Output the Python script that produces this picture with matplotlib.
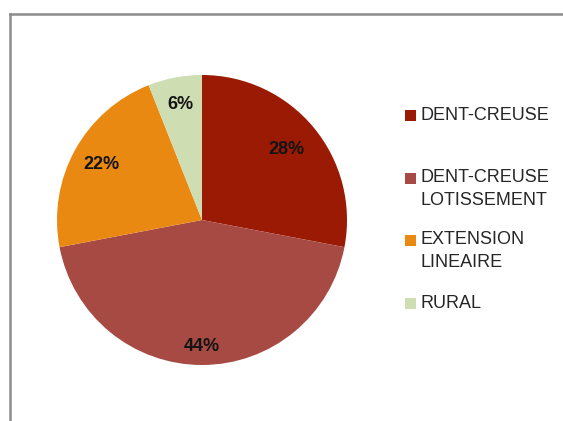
import matplotlib
matplotlib.use("Agg")
import matplotlib.pyplot as plt
from matplotlib.patches import Rectangle
from matplotlib.lines import Line2D
import numpy as np

categories = ["DENT-CREUSE", "DENT-CREUSE\nLOTISSEMENT", "EXTENSION\nLINEAIRE", "RURAL"]
shares = [28, 44, 22, 6]
colors = ["#9A1A04", "#A84A44", "#EA8912", "#CFDDB2"]

W, H = 563, 421
fig = plt.figure(figsize=(W / 100, H / 100), dpi=100)
fig.patch.set_facecolor("white")
plt.rcParams["font.family"] = ["Liberation Sans", "DejaVu Sans"]

# pie placement in pixels (center and radius)
cx, cy, R = 202, 220, 145
ax = fig.add_axes([(cx - R) / W, (H - cy - R) / H, 2 * R / W, 2 * R / H])
wedges, _ = ax.pie(shares, colors=colors, startangle=90, counterclock=False,
                   radius=1.0, wedgeprops=dict(linewidth=0))
ax.set_xlim(-1, 1)
ax.set_ylim(-1, 1)
ax.set_aspect("equal")
ax.axis("off")

# percentage labels placed along each wedge's mid-angle
label_r = [0.76, 0.87, 0.79, 0.81]
for w, v, r in zip(wedges, shares, label_r):
    mid = np.deg2rad((w.theta1 + w.theta2) / 2)
    ax.text(r * np.cos(mid), r * np.sin(mid), f"{v}%", ha="center", va="center",
            fontsize=13, fontweight="bold", color="#141414")

# legend drawn as squares and text in figure pixels
entry_y = [115, 178, 240, 303]
line_h = 22.5
for name, col, y in zip(categories, colors, entry_y):
    fig.patches.append(Rectangle(((405) / W, (H - y - 5.5) / H), 11 / W, 11 / H,
                                 transform=fig.transFigure, facecolor=col,
                                 edgecolor="none"))
    for i, line in enumerate(name.split("\n")):
        fig.text(421 / W, (H - (y + i * line_h)) / H, line, ha="left",
                 va="center", fontsize=13, color="#262626")

# outer frame (top and left edges visible)
frame_kw = dict(transform=fig.transFigure, color="#8c8c8c", linewidth=1.8)
fig.lines.append(Line2D([9.5 / W, 9.5 / W], [0, (H - 13.5) / H], **frame_kw))
fig.lines.append(Line2D([9.5 / W, 1.0], [(H - 13.5) / H, (H - 13.5) / H], **frame_kw))

fig.savefig("out.png", dpi=100)
